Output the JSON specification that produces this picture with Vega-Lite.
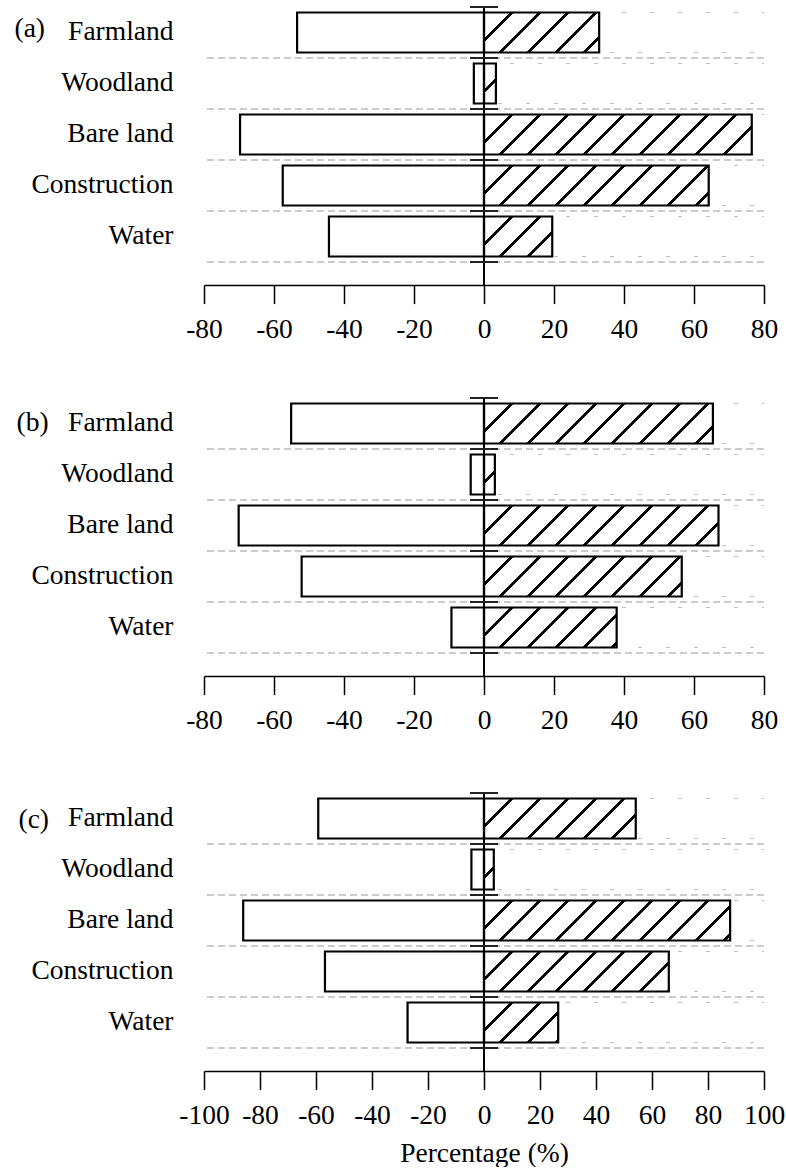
{
  "$schema": "https://vega.github.io/schema/vega-lite/v6.json",
  "background": "white",
  "padding": {"left": 14, "top": 6, "right": 0, "bottom": 0},
  "config": {
    "view": {"stroke": null},
    "font": "Liberation Serif",
    "axis": {"labelFont": "Liberation Serif", "titleFont": "Liberation Serif", "labelColor": "black", "titleColor": "black", "titleFontWeight": "normal", "grid": false}
  },
  "datasets": {
    "a": [
      {"category": "Farmland", "decrease": -53.4, "increase": 32.9},
      {"category": "Woodland", "decrease": -2.9, "increase": 3.4},
      {"category": "Bare land", "decrease": -69.7, "increase": 76.5},
      {"category": "Construction", "decrease": -57.5, "increase": 64.2},
      {"category": "Water", "decrease": -44.3, "increase": 19.5}
    ],
    "b": [
      {"category": "Farmland", "decrease": -55.1, "increase": 65.4},
      {"category": "Woodland", "decrease": -3.8, "increase": 3.1},
      {"category": "Bare land", "decrease": -70.1, "increase": 67.0},
      {"category": "Construction", "decrease": -52.1, "increase": 56.5},
      {"category": "Water", "decrease": -9.3, "increase": 37.9}
    ],
    "c": [
      {"category": "Farmland", "decrease": -59.2, "increase": 54.2},
      {"category": "Woodland", "decrease": -4.5, "increase": 3.5},
      {"category": "Bare land", "decrease": -86.0, "increase": 87.9},
      {"category": "Construction", "decrease": -56.8, "increase": 66.0},
      {"category": "Water", "decrease": -27.3, "increase": 26.5}
    ]
  },
  "vconcat": [
    {
      "spacing": 53,
      "vconcat": [
        {
          "data": {"name": "a"},
          "width": 560, "height": 278,
          "layer": [
            {"mark": {"type": "rule", "stroke": "#bbbbbb", "strokeWidth": 1.5, "strokeDash": [7, 4]},
             "encoding": {"y": {"field": "category", "type": "nominal", "bandPosition": 1,
               "scale": {"domain": ["Farmland", "Woodland", "Bare land", "Construction", "Water"], "paddingInner": 0, "paddingOuter": 0.2255, "align": 0},
               "axis": {"title": "(a)", "titleAngle": 0, "titleAlign": "left", "titleBaseline": "alphabetic", "titleX": -190, "titleY": 29, "titleFontSize": 27.5, "labelFontSize": 27.5, "labelPadding": 31, "ticks": false, "domain": false}}}},
            {"mark": {"type": "bar", "size": 40, "fill": {"gradient": "linear", "x1": 0, "y1": 0, "x2": 1.12, "y2": 0.16, "stops": [
                {"offset": 0, "color": "white"},
                {"offset": 0.0805, "color": "white"}, {"offset": 0.0805, "color": "black"}, {"offset": 0.0945, "color": "black"}, {"offset": 0.0945, "color": "white"},
                {"offset": 0.168, "color": "white"}, {"offset": 0.168, "color": "black"}, {"offset": 0.182, "color": "black"}, {"offset": 0.182, "color": "white"},
                {"offset": 0.2555, "color": "white"}, {"offset": 0.2555, "color": "black"}, {"offset": 0.2695, "color": "black"}, {"offset": 0.2695, "color": "white"},
                {"offset": 0.343, "color": "white"}, {"offset": 0.343, "color": "black"}, {"offset": 0.357, "color": "black"}, {"offset": 0.357, "color": "white"},
                {"offset": 0.4305, "color": "white"}, {"offset": 0.4305, "color": "black"}, {"offset": 0.4445, "color": "black"}, {"offset": 0.4445, "color": "white"},
                {"offset": 0.518, "color": "white"}, {"offset": 0.518, "color": "black"}, {"offset": 0.532, "color": "black"}, {"offset": 0.532, "color": "white"},
                {"offset": 0.6055, "color": "white"}, {"offset": 0.6055, "color": "black"}, {"offset": 0.6195, "color": "black"}, {"offset": 0.6195, "color": "white"},
                {"offset": 0.693, "color": "white"}, {"offset": 0.693, "color": "black"}, {"offset": 0.707, "color": "black"}, {"offset": 0.707, "color": "white"},
                {"offset": 0.7805, "color": "white"}, {"offset": 0.7805, "color": "black"}, {"offset": 0.7945, "color": "black"}, {"offset": 0.7945, "color": "white"},
                {"offset": 0.868, "color": "white"}, {"offset": 0.868, "color": "black"}, {"offset": 0.882, "color": "black"}, {"offset": 0.882, "color": "white"},
                {"offset": 0.9555, "color": "white"}, {"offset": 0.9555, "color": "black"}, {"offset": 0.9695, "color": "black"}, {"offset": 0.9695, "color": "white"},
                {"offset": 1, "color": "white"}]}},
             "encoding": {
               "x": {"datum": 0, "type": "quantitative", "scale": {"domain": [-80, 80], "nice": false, "zero": false},
                 "axis": {"title": null, "values": [-80, -60, -40, -20, 0, 20, 40, 60, 80], "labelExpr": "'' + datum.value", "tickSize": 18.6, "tickWidth": 1.5, "tickColor": "black", "domainColor": "black", "domainWidth": 1.5, "labelFontSize": 27.5, "labelPadding": 12, "labelOverlap": false, "labelFlush": false}},
               "x2": {"datum": 80},
               "y": {"field": "category", "type": "nominal"}}},
            {"mark": {"type": "bar", "size": 40, "fill": "white"},
             "encoding": {"x": {"field": "increase", "type": "quantitative"}, "x2": {"datum": 80}, "y": {"field": "category", "type": "nominal"}}},
            {"mark": {"type": "bar", "size": 40, "fill": "white", "stroke": "black", "strokeWidth": 2.2},
             "encoding": {"x": {"field": "decrease", "type": "quantitative"}, "x2": {"datum": 0}, "y": {"field": "category", "type": "nominal"}}},
            {"mark": {"type": "bar", "size": 40, "fill": "transparent", "stroke": "black", "strokeWidth": 2.2},
             "encoding": {"x": {"field": "increase", "type": "quantitative"}, "x2": {"datum": 0}, "y": {"field": "category", "type": "nominal"}}},
            {"mark": {"type": "rule", "stroke": "black", "strokeWidth": 1.6},
             "encoding": {"x": {"datum": 0, "type": "quantitative"}}},
            {"mark": {"type": "rule", "stroke": "#222222", "strokeWidth": 2},
             "encoding": {"x": {"datum": -4, "type": "quantitative"}, "x2": {"datum": 4}, "y": {"field": "category", "type": "nominal", "bandPosition": 0}}},
            {"mark": {"type": "rule", "stroke": "#222222", "strokeWidth": 2},
             "encoding": {"x": {"datum": -4, "type": "quantitative"}, "x2": {"datum": 4}, "y": {"field": "category", "type": "nominal", "bandPosition": 1}}}
          ]
        },
        {
          "data": {"name": "b"},
          "width": 560, "height": 278,
          "layer": [
            {"mark": {"type": "rule", "stroke": "#bbbbbb", "strokeWidth": 1.5, "strokeDash": [7, 4]},
             "encoding": {"y": {"field": "category", "type": "nominal", "bandPosition": 1,
               "scale": {"domain": ["Farmland", "Woodland", "Bare land", "Construction", "Water"], "paddingInner": 0, "paddingOuter": 0.2255, "align": 0},
               "axis": {"title": "(b)", "titleAngle": 0, "titleAlign": "left", "titleBaseline": "alphabetic", "titleX": -188, "titleY": 32, "titleFontSize": 27.5, "labelFontSize": 27.5, "labelPadding": 31, "ticks": false, "domain": false}}}},
            {"mark": {"type": "bar", "size": 40, "fill": {"gradient": "linear", "x1": 0, "y1": 0, "x2": 1.12, "y2": 0.16, "stops": [
                {"offset": 0, "color": "white"},
                {"offset": 0.0805, "color": "white"}, {"offset": 0.0805, "color": "black"}, {"offset": 0.0945, "color": "black"}, {"offset": 0.0945, "color": "white"},
                {"offset": 0.168, "color": "white"}, {"offset": 0.168, "color": "black"}, {"offset": 0.182, "color": "black"}, {"offset": 0.182, "color": "white"},
                {"offset": 0.2555, "color": "white"}, {"offset": 0.2555, "color": "black"}, {"offset": 0.2695, "color": "black"}, {"offset": 0.2695, "color": "white"},
                {"offset": 0.343, "color": "white"}, {"offset": 0.343, "color": "black"}, {"offset": 0.357, "color": "black"}, {"offset": 0.357, "color": "white"},
                {"offset": 0.4305, "color": "white"}, {"offset": 0.4305, "color": "black"}, {"offset": 0.4445, "color": "black"}, {"offset": 0.4445, "color": "white"},
                {"offset": 0.518, "color": "white"}, {"offset": 0.518, "color": "black"}, {"offset": 0.532, "color": "black"}, {"offset": 0.532, "color": "white"},
                {"offset": 0.6055, "color": "white"}, {"offset": 0.6055, "color": "black"}, {"offset": 0.6195, "color": "black"}, {"offset": 0.6195, "color": "white"},
                {"offset": 0.693, "color": "white"}, {"offset": 0.693, "color": "black"}, {"offset": 0.707, "color": "black"}, {"offset": 0.707, "color": "white"},
                {"offset": 0.7805, "color": "white"}, {"offset": 0.7805, "color": "black"}, {"offset": 0.7945, "color": "black"}, {"offset": 0.7945, "color": "white"},
                {"offset": 0.868, "color": "white"}, {"offset": 0.868, "color": "black"}, {"offset": 0.882, "color": "black"}, {"offset": 0.882, "color": "white"},
                {"offset": 0.9555, "color": "white"}, {"offset": 0.9555, "color": "black"}, {"offset": 0.9695, "color": "black"}, {"offset": 0.9695, "color": "white"},
                {"offset": 1, "color": "white"}]}},
             "encoding": {
               "x": {"datum": 0, "type": "quantitative", "scale": {"domain": [-80, 80], "nice": false, "zero": false},
                 "axis": {"title": null, "values": [-80, -60, -40, -20, 0, 20, 40, 60, 80], "labelExpr": "'' + datum.value", "tickSize": 18.6, "tickWidth": 1.5, "tickColor": "black", "domainColor": "black", "domainWidth": 1.5, "labelFontSize": 27.5, "labelPadding": 12, "labelOverlap": false, "labelFlush": false}},
               "x2": {"datum": 80},
               "y": {"field": "category", "type": "nominal"}}},
            {"mark": {"type": "bar", "size": 40, "fill": "white"},
             "encoding": {"x": {"field": "increase", "type": "quantitative"}, "x2": {"datum": 80}, "y": {"field": "category", "type": "nominal"}}},
            {"mark": {"type": "bar", "size": 40, "fill": "white", "stroke": "black", "strokeWidth": 2.2},
             "encoding": {"x": {"field": "decrease", "type": "quantitative"}, "x2": {"datum": 0}, "y": {"field": "category", "type": "nominal"}}},
            {"mark": {"type": "bar", "size": 40, "fill": "transparent", "stroke": "black", "strokeWidth": 2.2},
             "encoding": {"x": {"field": "increase", "type": "quantitative"}, "x2": {"datum": 0}, "y": {"field": "category", "type": "nominal"}}},
            {"mark": {"type": "rule", "stroke": "black", "strokeWidth": 1.6},
             "encoding": {"x": {"datum": 0, "type": "quantitative"}}},
            {"mark": {"type": "rule", "stroke": "#222222", "strokeWidth": 2},
             "encoding": {"x": {"datum": -4, "type": "quantitative"}, "x2": {"datum": 4}, "y": {"field": "category", "type": "nominal", "bandPosition": 0}}},
            {"mark": {"type": "rule", "stroke": "#222222", "strokeWidth": 2},
             "encoding": {"x": {"datum": -4, "type": "quantitative"}, "x2": {"datum": 4}, "y": {"field": "category", "type": "nominal", "bandPosition": 1}}}
          ]
        }
      ]
    },
    {
      "data": {"name": "c"},
      "width": 560, "height": 278,
      "layer": [
        {"mark": {"type": "rule", "stroke": "#bbbbbb", "strokeWidth": 1.5, "strokeDash": [7, 4]},
         "encoding": {"y": {"field": "category", "type": "nominal", "bandPosition": 1,
           "scale": {"domain": ["Farmland", "Woodland", "Bare land", "Construction", "Water"], "paddingInner": 0, "paddingOuter": 0.2255, "align": 0},
           "axis": {"title": "(c)", "titleAngle": 0, "titleAlign": "left", "titleBaseline": "alphabetic", "titleX": -186, "titleY": 34, "titleFontSize": 27.5, "labelFontSize": 27.5, "labelPadding": 31, "ticks": false, "domain": false}}}},
        {"mark": {"type": "bar", "size": 40, "fill": {"gradient": "linear", "x1": 0, "y1": 0, "x2": 1.12, "y2": 0.16, "stops": [
            {"offset": 0, "color": "white"},
            {"offset": 0.0805, "color": "white"}, {"offset": 0.0805, "color": "black"}, {"offset": 0.0945, "color": "black"}, {"offset": 0.0945, "color": "white"},
            {"offset": 0.168, "color": "white"}, {"offset": 0.168, "color": "black"}, {"offset": 0.182, "color": "black"}, {"offset": 0.182, "color": "white"},
            {"offset": 0.2555, "color": "white"}, {"offset": 0.2555, "color": "black"}, {"offset": 0.2695, "color": "black"}, {"offset": 0.2695, "color": "white"},
            {"offset": 0.343, "color": "white"}, {"offset": 0.343, "color": "black"}, {"offset": 0.357, "color": "black"}, {"offset": 0.357, "color": "white"},
            {"offset": 0.4305, "color": "white"}, {"offset": 0.4305, "color": "black"}, {"offset": 0.4445, "color": "black"}, {"offset": 0.4445, "color": "white"},
            {"offset": 0.518, "color": "white"}, {"offset": 0.518, "color": "black"}, {"offset": 0.532, "color": "black"}, {"offset": 0.532, "color": "white"},
            {"offset": 0.6055, "color": "white"}, {"offset": 0.6055, "color": "black"}, {"offset": 0.6195, "color": "black"}, {"offset": 0.6195, "color": "white"},
            {"offset": 0.693, "color": "white"}, {"offset": 0.693, "color": "black"}, {"offset": 0.707, "color": "black"}, {"offset": 0.707, "color": "white"},
            {"offset": 0.7805, "color": "white"}, {"offset": 0.7805, "color": "black"}, {"offset": 0.7945, "color": "black"}, {"offset": 0.7945, "color": "white"},
            {"offset": 0.868, "color": "white"}, {"offset": 0.868, "color": "black"}, {"offset": 0.882, "color": "black"}, {"offset": 0.882, "color": "white"},
            {"offset": 0.9555, "color": "white"}, {"offset": 0.9555, "color": "black"}, {"offset": 0.9695, "color": "black"}, {"offset": 0.9695, "color": "white"},
            {"offset": 1, "color": "white"}]}},
         "encoding": {
           "x": {"datum": 0, "type": "quantitative", "scale": {"domain": [-100, 100], "nice": false, "zero": false},
             "axis": {"title": "Percentage (%)", "titleFontSize": 27.5, "titlePadding": 10, "values": [-100, -80, -60, -40, -20, 0, 20, 40, 60, 80, 100], "labelExpr": "'' + datum.value", "tickSize": 18.6, "tickWidth": 1.5, "tickColor": "black", "domainColor": "black", "domainWidth": 1.5, "labelFontSize": 27.5, "labelPadding": 12, "labelOverlap": false, "labelFlush": false}},
           "x2": {"datum": 100},
           "y": {"field": "category", "type": "nominal"}}},
        {"mark": {"type": "bar", "size": 40, "fill": "white"},
         "encoding": {"x": {"field": "increase", "type": "quantitative"}, "x2": {"datum": 100}, "y": {"field": "category", "type": "nominal"}}},
        {"mark": {"type": "bar", "size": 40, "fill": "white", "stroke": "black", "strokeWidth": 2.2},
         "encoding": {"x": {"field": "decrease", "type": "quantitative"}, "x2": {"datum": 0}, "y": {"field": "category", "type": "nominal"}}},
        {"mark": {"type": "bar", "size": 40, "fill": "transparent", "stroke": "black", "strokeWidth": 2.2},
         "encoding": {"x": {"field": "increase", "type": "quantitative"}, "x2": {"datum": 0}, "y": {"field": "category", "type": "nominal"}}},
        {"mark": {"type": "rule", "stroke": "black", "strokeWidth": 1.6},
         "encoding": {"x": {"datum": 0, "type": "quantitative"}}},
        {"mark": {"type": "rule", "stroke": "#222222", "strokeWidth": 2},
         "encoding": {"x": {"datum": -5, "type": "quantitative"}, "x2": {"datum": 5}, "y": {"field": "category", "type": "nominal", "bandPosition": 0}}},
        {"mark": {"type": "rule", "stroke": "#222222", "strokeWidth": 2},
         "encoding": {"x": {"datum": -5, "type": "quantitative"}, "x2": {"datum": 5}, "y": {"field": "category", "type": "nominal", "bandPosition": 1}}}
      ]
    }
  ],
  "spacing": 57
}
